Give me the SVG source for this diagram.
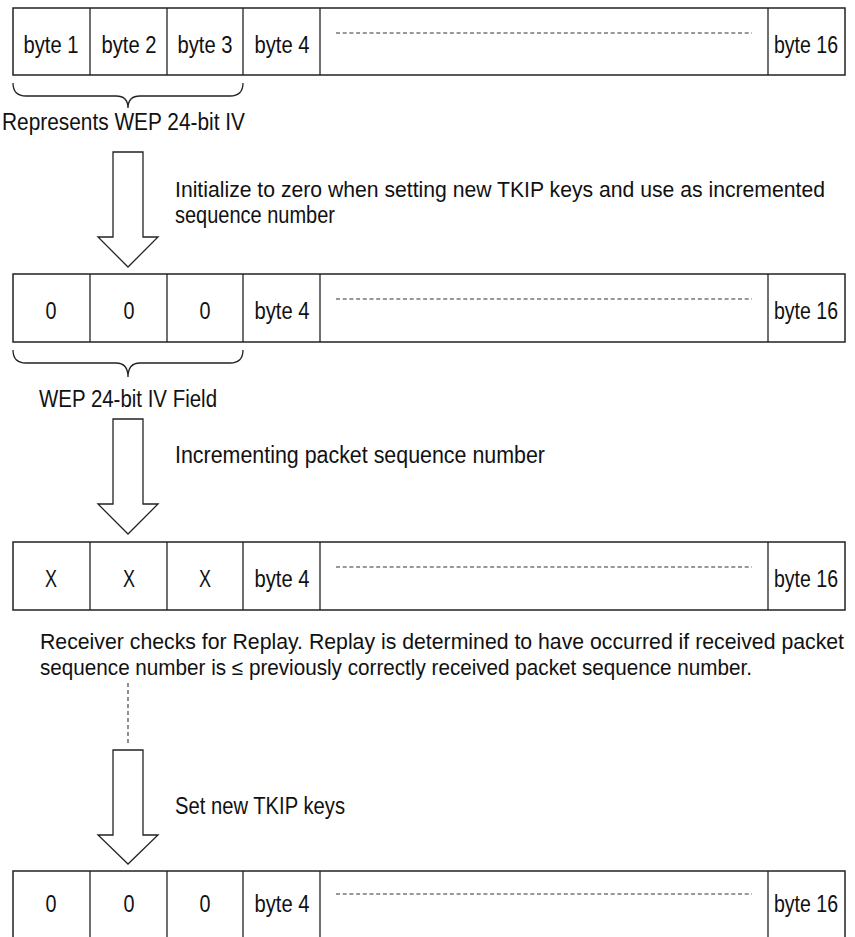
<svg xmlns="http://www.w3.org/2000/svg" width="855" height="937" viewBox="0 0 855 937">
<style>
text{font-family:"Liberation Sans",Arial,sans-serif;font-size:23px;fill:#111}
.c{text-anchor:middle}
.long{font-size:21.3px}
.box{fill:#fff;stroke:#222;stroke-width:1.5}
.div{stroke:#222;stroke-width:1.3}
.dash{stroke:#333;stroke-width:1.1;stroke-dasharray:4 2.7}
.brace{fill:none;stroke:#222;stroke-width:1.3}
.arrow{fill:#fff;stroke:#222;stroke-width:1.3;stroke-linejoin:miter}
</style>
<rect width="855" height="937" fill="#fff"/>
<g id="row1">
<rect class="box" x="13" y="8" width="832" height="67"/>
<line class="div" x1="90" y1="8" x2="90" y2="75"/>
<line class="div" x1="167" y1="8" x2="167" y2="75"/>
<line class="div" x1="243" y1="8" x2="243" y2="75"/>
<line class="div" x1="320" y1="8" x2="320" y2="75"/>
<line class="div" x1="768" y1="8" x2="768" y2="75"/>
<line class="dash" x1="336" y1="33" x2="752" y2="33"/>
<text class="c" x="51" y="53" textLength="55" lengthAdjust="spacingAndGlyphs">byte 1</text>
<text class="c" x="129" y="53" textLength="55" lengthAdjust="spacingAndGlyphs">byte 2</text>
<text class="c" x="205" y="53" textLength="55" lengthAdjust="spacingAndGlyphs">byte 3</text>
<text class="c" x="282" y="53" textLength="55" lengthAdjust="spacingAndGlyphs">byte 4</text>
<text class="c" x="806" y="53" textLength="64" lengthAdjust="spacingAndGlyphs">byte 16</text>
</g>
<g id="brace1">
<path class="brace" d="M13,83 Q13,96 26,96 L116,96 Q128,96 128,108 Q128,96 140,96 L230,96 Q243,96 243,83"/>
<text x="2" y="130" textLength="243" lengthAdjust="spacingAndGlyphs">Represents WEP 24-bit IV</text>
</g>
<g id="row2">
<rect class="box" x="13" y="274" width="832" height="68"/>
<line class="div" x1="90" y1="274" x2="90" y2="342"/>
<line class="div" x1="167" y1="274" x2="167" y2="342"/>
<line class="div" x1="243" y1="274" x2="243" y2="342"/>
<line class="div" x1="320" y1="274" x2="320" y2="342"/>
<line class="div" x1="768" y1="274" x2="768" y2="342"/>
<line class="dash" x1="336" y1="299" x2="752" y2="299"/>
<text class="c" x="51" y="319" textLength="11" lengthAdjust="spacingAndGlyphs">0</text>
<text class="c" x="129" y="319" textLength="11" lengthAdjust="spacingAndGlyphs">0</text>
<text class="c" x="205" y="319" textLength="11" lengthAdjust="spacingAndGlyphs">0</text>
<text class="c" x="282" y="319" textLength="55" lengthAdjust="spacingAndGlyphs">byte 4</text>
<text class="c" x="806" y="319" textLength="64" lengthAdjust="spacingAndGlyphs">byte 16</text>
</g>
<g id="brace2">
<path class="brace" d="M13,350 Q13,363 26,363 L116,363 Q128,363 128,377 Q128,363 140,363 L230,363 Q243,363 243,350"/>
<text x="39" y="407" textLength="178" lengthAdjust="spacingAndGlyphs">WEP 24-bit IV Field</text>
</g>
<g id="row3">
<rect class="box" x="13" y="542" width="832" height="68"/>
<line class="div" x1="90" y1="542" x2="90" y2="610"/>
<line class="div" x1="167" y1="542" x2="167" y2="610"/>
<line class="div" x1="243" y1="542" x2="243" y2="610"/>
<line class="div" x1="320" y1="542" x2="320" y2="610"/>
<line class="div" x1="768" y1="542" x2="768" y2="610"/>
<line class="dash" x1="336" y1="567" x2="752" y2="567"/>
<text class="c" x="51" y="587" textLength="12" lengthAdjust="spacingAndGlyphs">X</text>
<text class="c" x="129" y="587" textLength="12" lengthAdjust="spacingAndGlyphs">X</text>
<text class="c" x="205" y="587" textLength="12" lengthAdjust="spacingAndGlyphs">X</text>
<text class="c" x="282" y="587" textLength="55" lengthAdjust="spacingAndGlyphs">byte 4</text>
<text class="c" x="806" y="587" textLength="64" lengthAdjust="spacingAndGlyphs">byte 16</text>
</g>
<g id="replay-note">
<text class="long" x="40" y="649" textLength="804" lengthAdjust="spacingAndGlyphs">Receiver checks for Replay. Replay is determined to have occurred if received packet</text>
<text class="long" x="40" y="675" textLength="712" lengthAdjust="spacingAndGlyphs">sequence number is ≤ previously correctly received packet sequence number.</text>
</g>
<g id="row4">
<rect class="box" x="13" y="871" width="832" height="80"/>
<line class="div" x1="90" y1="871" x2="90" y2="937"/>
<line class="div" x1="167" y1="871" x2="167" y2="937"/>
<line class="div" x1="243" y1="871" x2="243" y2="937"/>
<line class="div" x1="320" y1="871" x2="320" y2="937"/>
<line class="div" x1="768" y1="871" x2="768" y2="937"/>
<line class="dash" x1="336" y1="894" x2="752" y2="894"/>
<text class="c" x="51" y="912" textLength="11" lengthAdjust="spacingAndGlyphs">0</text>
<text class="c" x="129" y="912" textLength="11" lengthAdjust="spacingAndGlyphs">0</text>
<text class="c" x="205" y="912" textLength="11" lengthAdjust="spacingAndGlyphs">0</text>
<text class="c" x="282" y="912" textLength="55" lengthAdjust="spacingAndGlyphs">byte 4</text>
<text class="c" x="806" y="912" textLength="64" lengthAdjust="spacingAndGlyphs">byte 16</text>
</g>
<g id="connectors">
<polygon class="arrow" points="113,152 143,152 143,237 158,237 128,267 98,237 113,237"/>
<text class="long" x="175" y="197" textLength="650" lengthAdjust="spacingAndGlyphs">Initialize to zero when setting new TKIP keys and use as incremented</text>
<text x="175" y="223" textLength="160" lengthAdjust="spacingAndGlyphs">sequence number</text>
<polygon class="arrow" points="113,419 143,419 143,504 158,504 128,534 98,504 113,504"/>
<text x="175" y="463" textLength="370" lengthAdjust="spacingAndGlyphs">Incrementing packet sequence number</text>
<line class="dash" x1="128" y1="683" x2="128" y2="743" style="stroke-dasharray:4 3"/>
<polygon class="arrow" points="113,750 143,750 143,835 158,835 128,864 98,835 113,835"/>
<text x="175" y="814" textLength="170" lengthAdjust="spacingAndGlyphs">Set new TKIP keys</text>
</g>
</svg>
